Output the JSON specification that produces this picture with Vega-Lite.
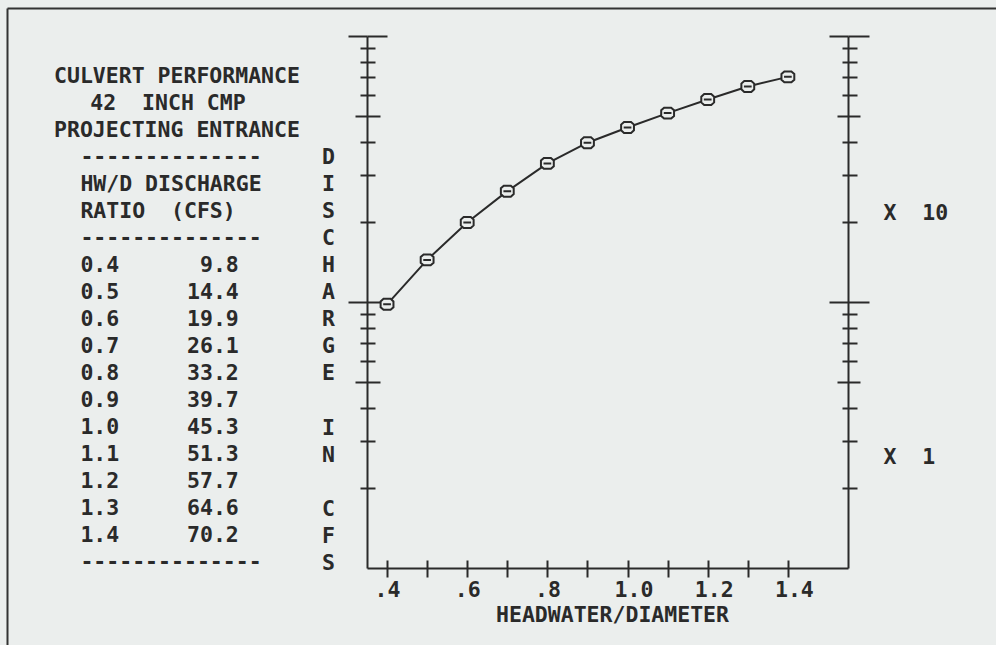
{
  "$schema": "https://vega.github.io/schema/vega-lite/v6.json",
  "width": 481,
  "height": 532,
  "autosize": "none",
  "padding": {"left": 367, "top": 36, "right": 148, "bottom": 77},
  "background": "#ebeeed",
  "config": {
    "view": {"stroke": null},
    "axis": {
      "labelFont": "DejaVu Sans Mono", "labelFontWeight": "bold", "labelFontSize": 21.5, "labelColor": "#2a2a2a",
      "titleFont": "DejaVu Sans Mono", "titleFontWeight": "bold", "titleFontSize": 21.5, "titleColor": "#2a2a2a",
      "domainColor": "#2a2a2a", "domainWidth": 2, "tickColor": "#2a2a2a", "tickWidth": 2,
      "gridColor": "#2a2a2a", "gridWidth": 2, "gridOpacity": 1
    }
  },
  "datasets": {
    "culvert": [
      {"hw": 0.4, "q": 9.8}, {"hw": 0.5, "q": 14.4}, {"hw": 0.6, "q": 19.9}, {"hw": 0.7, "q": 26.1},
      {"hw": 0.8, "q": 33.2}, {"hw": 0.9, "q": 39.7}, {"hw": 1.0, "q": 45.3}, {"hw": 1.1, "q": 51.3},
      {"hw": 1.2, "q": 57.7}, {"hw": 1.3, "q": 64.6}, {"hw": 1.4, "q": 70.2}
    ],
    "header": [
      {"line": 1, "text": "CULVERT PERFORMANCE"},
      {"line": 2, "text": "42\u00a0\u00a0INCH CMP"},
      {"line": 3, "text": "PROJECTING ENTRANCE"},
      {"line": 4, "text": "--------------"},
      {"line": 5, "text": "HW/D DISCHARGE"},
      {"line": 6, "text": "RATIO\u00a0\u00a0(CFS)"},
      {"line": 7, "text": "--------------"},
      {"line": 19, "text": "--------------"}
    ]
  },
  "resolve": {"scale": {"x": "independent", "y": "independent"}, "axis": {"x": "independent", "y": "independent"}},
  "layer": [
    {
      "data": {"name": "culvert"},
      "resolve": {"axis": {"y": "independent", "x": "independent"}},
      "layer": [
        {
          "mark": {"type": "line", "color": "#2a2a2a", "strokeWidth": 2},
          "encoding": {
            "x": {
              "field": "hw", "type": "quantitative",
              "scale": {"type": "linear", "domain": [0.35, 1.55], "nice": false, "zero": false},
              "axis": {
                "orient": "bottom",
                "values": [0.4, 0.5, 0.6, 0.7, 0.8, 0.9, 1.0, 1.1, 1.2, 1.3, 1.4],
                "tickSize": 9,
                "labelExpr": "round(datum.value*10) % 2 == 0 ? (datum.value < 0.95 ? replace(format(datum.value, '.1f'), '0.', '.') : format(datum.value, '.1f')) : ''",
                "labelBaseline": "middle", "labelPadding": 13, "labelAlign": "center",
                "labelFlush": false, "labelOverlap": false,
                "labelOffset": {"condition": {"test": "datum.value >= 0.95", "value": 6}, "value": 0},
                "grid": true, "gridDash": [0, 524, 9, 3000],
                "title": "HEADWATER/DIAMETER",
                "titleX": 245, "titleY": 47, "titleAlign": "center", "titleBaseline": "middle", "titleAngle": 0
              }
            },
            "y": {
              "field": "q", "type": "quantitative",
              "scale": {"type": "log", "domain": [1, 100], "nice": false},
              "axis": {
                "orient": "left",
                "values": [2, 3, 4, 5, 6, 7, 8, 9, 10, 20, 30, 40, 50, 60, 70, 80, 90, 100],
                "labels": false,
                "tickSize": {"condition": [
                  {"test": "datum.value == 10 || datum.value == 100", "value": 19},
                  {"test": "datum.value == 5 || datum.value == 50", "value": 12}
                ], "value": 7},
                "grid": true,
                "gridDash": {"condition": [
                  {"test": "datum.value == 10 || datum.value == 100", "value": [20, 442, 19, 3000]},
                  {"test": "datum.value == 5 || datum.value == 50", "value": [13, 457, 11, 3000]}
                ], "value": [8, 467, 6, 3000]},
                "title": ["D", "I", "S", "C", "H", "A", "R", "G", "E"],
                "titleAngle": 0, "titleAlign": "center", "titleBaseline": "middle",
                "titleX": -39, "titleY": 121, "titleLineHeight": 27.1
              }
            }
          }
        },
        {
          "mark": {
            "type": "point",
            "shape": "M-0.55,-0.85L0.55,-0.85L1,-0.45L1,0.45L0.55,0.85L-0.55,0.85L-1,0.45L-1,-0.45Z M-0.6,0L0.6,0",
            "size": 165, "filled": true, "fill": "#ebeeed", "stroke": "#2a2a2a", "strokeWidth": 2, "opacity": 1
          },
          "encoding": {
            "x": {"field": "hw", "type": "quantitative", "scale": {"type": "linear", "domain": [0.35, 1.55], "nice": false, "zero": false}, "axis": null},
            "y": {
              "field": "q", "type": "quantitative",
              "scale": {"type": "log", "domain": [1, 100], "nice": false},
              "axis": {
                "orient": "right",
                "values": [2, 3, 4, 5, 6, 7, 8, 9, 10, 20, 30, 40, 50, 60, 70, 80, 90, 100],
                "labels": false, "grid": false,
                "tickSize": {"condition": [
                  {"test": "datum.value == 10 || datum.value == 100", "value": 21},
                  {"test": "datum.value == 5 || datum.value == 50", "value": 12}
                ], "value": 9},
                "title": ["X\u00a0\u00a010", "X\u00a0\u00a01"],
                "titleAngle": 0, "titleAlign": "left", "titleBaseline": "middle",
                "titleX": 35, "titleY": 177, "titleLineHeight": 244
              }
            }
          }
        }
      ]
    },
    {
      "data": {"name": "header"},
      "transform": [{"filter": "datum.line == 1 || datum.line == 3"}],
      "mark": {"type": "text", "align": "left", "baseline": "middle", "font": "DejaVu Sans Mono", "fontWeight": "bold", "fontSize": 21.5, "color": "#2a2a2a"},
      "encoding": {
        "x": {
          "datum": 0, "type": "quantitative",
          "scale": {"domain": [-3.5606, 71.3636], "range": [-360, 629], "nice": false, "zero": false},
          "axis": {
            "orient": "top", "offset": 28, "domain": true, "domainWidth": 2, "domainColor": "#333333",
            "ticks": false, "labels": false, "grid": false,
            "title": ["C", "F", "S"],
            "titleAngle": 0, "titleAlign": "center", "titleBaseline": "middle",
            "titleX": -39, "titleY": 501.5, "titleLineHeight": 27.1
          }
        },
        "y": {
          "field": "line", "type": "quantitative",
          "scale": {"domain": [-1.5556, 22.037], "range": [-28, 609], "nice": false, "zero": false},
          "axis": {
            "orient": "left", "offset": 360, "domain": true, "domainWidth": 2, "domainColor": "#333333",
            "ticks": false, "labels": false, "grid": false,
            "title": ["I", "N"],
            "titleAngle": 0, "titleAlign": "center", "titleBaseline": "middle",
            "titleX": 321, "titleY": 392.4, "titleLineHeight": 27.1
          }
        },
        "text": {"field": "text"}
      }
    },
    {
      "data": {"name": "header"},
      "transform": [{"filter": "datum.line == 2"}],
      "mark": {"type": "text", "align": "left", "baseline": "middle", "font": "DejaVu Sans Mono", "fontWeight": "bold", "fontSize": 21.5, "color": "#2a2a2a"},
      "encoding": {
        "x": {"datum": 2.75, "type": "quantitative", "scale": {"domain": [-3.5606, 71.3636], "range": [-360, 629], "nice": false, "zero": false}, "axis": null},
        "y": {"field": "line", "type": "quantitative", "scale": {"domain": [-1.5556, 22.037], "range": [-28, 609], "nice": false, "zero": false}, "axis": null},
        "text": {"field": "text"}
      }
    },
    {
      "data": {"name": "header"},
      "transform": [{"filter": "datum.line >= 4"}],
      "mark": {"type": "text", "align": "left", "baseline": "middle", "font": "DejaVu Sans Mono", "fontWeight": "bold", "fontSize": 21.5, "color": "#2a2a2a"},
      "encoding": {
        "x": {"datum": 2, "type": "quantitative", "scale": {"domain": [-3.5606, 71.3636], "range": [-360, 629], "nice": false, "zero": false}, "axis": null},
        "y": {"field": "line", "type": "quantitative", "scale": {"domain": [-1.5556, 22.037], "range": [-28, 609], "nice": false, "zero": false}, "axis": null},
        "text": {"field": "text"}
      }
    },
    {
      "data": {"name": "culvert"},
      "mark": {"type": "text", "align": "left", "baseline": "middle", "font": "DejaVu Sans Mono", "fontWeight": "bold", "fontSize": 21.5, "color": "#2a2a2a"},
      "encoding": {
        "x": {"datum": 2, "type": "quantitative", "scale": {"domain": [-3.5606, 71.3636], "range": [-360, 629], "nice": false, "zero": false}, "axis": null},
        "y": {"field": "hw", "type": "quantitative", "scale": {"domain": [0.4, 1.4], "range": [230, 500], "nice": false, "zero": false}, "axis": null},
        "text": {"field": "hw", "type": "quantitative", "format": ".1f"}
      }
    },
    {
      "data": {"name": "culvert"},
      "mark": {"type": "text", "align": "right", "baseline": "middle", "font": "DejaVu Sans Mono", "fontWeight": "bold", "fontSize": 21.5, "color": "#2a2a2a"},
      "encoding": {
        "x": {"datum": 14, "type": "quantitative", "scale": {"domain": [-3.5606, 71.3636], "range": [-360, 629], "nice": false, "zero": false}, "axis": null},
        "y": {"field": "hw", "type": "quantitative", "scale": {"domain": [0.4, 1.4], "range": [230, 500], "nice": false, "zero": false}, "axis": null},
        "text": {"field": "q", "type": "quantitative", "format": ".1f"}
      }
    }
  ]
}
